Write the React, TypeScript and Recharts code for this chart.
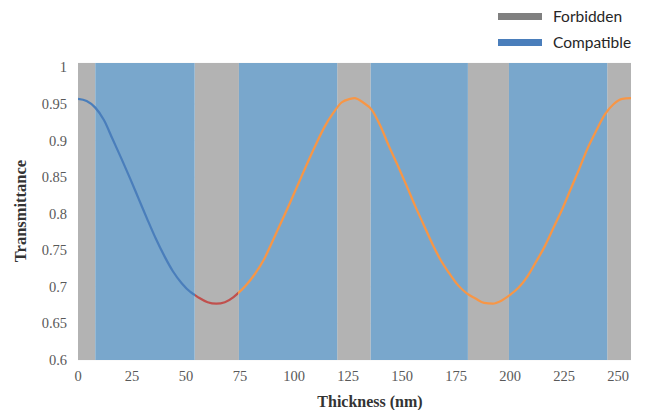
import React from "react";
import {
  ComposedChart,
  Line,
  XAxis,
  YAxis,
  CartesianGrid,
  ReferenceArea,
  Label,
} from "recharts";

// thickness (nm) and transmittance
const thickness = [
  0, 4, 8, 12, 16, 20, 24, 28, 32, 36, 40, 44, 48, 52, 54, 56, 60, 64, 68, 72,
  74, 78, 82, 86, 90, 94, 98, 102, 106, 110, 114, 118, 122, 126, 128, 132, 136,
  140, 144, 148, 152, 156, 160, 164, 168, 172, 176, 180, 184, 188, 192, 196,
  200, 204, 208, 212, 216, 220, 224, 228, 232, 236, 240, 244, 248, 252, 256,
];
const transmittance = [
  0.957, 0.954, 0.945, 0.928, 0.902, 0.876, 0.849, 0.821, 0.793, 0.766, 0.742,
  0.721, 0.705, 0.693, 0.689, 0.685, 0.679, 0.677, 0.679, 0.686, 0.691, 0.703,
  0.718, 0.737, 0.762, 0.788, 0.814, 0.841, 0.868, 0.894, 0.918, 0.937, 0.952,
  0.957, 0.958, 0.952, 0.942, 0.92, 0.892, 0.866, 0.839, 0.811, 0.785, 0.759,
  0.736, 0.718, 0.702, 0.691, 0.684, 0.678, 0.677, 0.681, 0.689, 0.699, 0.714,
  0.734, 0.755, 0.78, 0.805, 0.833, 0.861, 0.89, 0.914, 0.936, 0.95, 0.957,
  0.958,
];

// where the curve changes colour (nm)
const redFrom = 54;
const redTo = 74;
const xMax = 256;

// shaded thickness ranges
const forbiddenStart = [0, 54, 120, 180.5, 245];
const forbiddenEnd = [8, 74.5, 135.5, 199.5, 256];
const compatibleStart = [8, 74.5, 135.5, 199.5];
const compatibleEnd = [54, 120, 180.5, 245];

const xTicks = [0, 25, 50, 75, 100, 125, 150, 175, 200, 225, 250];
const yTicks = [0.6, 0.65, 0.7, 0.75, 0.8, 0.85, 0.9, 0.95, 1];

const chartData = thickness.map((t, i) => ({ t, v: transmittance[i] }));

const serif = "Liberation Serif";
const legendFont = "Lato, 'Open Sans', sans-serif";

function XTick(props: any) {
  const { x, y, payload } = props;
  return (
    <text
      x={x}
      y={y + 11}
      textAnchor="middle"
      fill="#595959"
      fontSize={14.5}
      fontFamily={serif}
    >
      {payload.value}
    </text>
  );
}

function YTick(props: any) {
  const { x, y, payload } = props;
  return (
    <text
      x={x}
      y={y + 5}
      textAnchor="end"
      fill="#595959"
      fontSize={14.5}
      fontFamily={serif}
    >
      {payload.value}
    </text>
  );
}

function LegendBox() {
  const rows = [
    { name: "Forbidden", color: "#808080" },
    { name: "Compatible", color: "#4a7ebb" },
  ];
  return (
    <div style={{ position: "absolute", left: 498, top: 3 }}>
      {rows.map((r) => (
        <div
          key={r.name}
          style={{ display: "flex", alignItems: "center", height: 26 }}
        >
          <div
            style={{ width: 44, height: 7, background: r.color, marginRight: 11 }}
          />
          <span
            style={{ fontFamily: legendFont, fontSize: 15.5, color: "#262626" }}
          >
            {r.name}
          </span>
        </div>
      ))}
    </div>
  );
}

export default function App() {
  const o1 = redFrom / xMax;
  const o2 = redTo / xMax;
  return (
    <div
      style={{
        position: "absolute",
        left: 0,
        top: 0,
        width: 647,
        height: 410,
        background: "#fff",
      }}
    >
      <ComposedChart
        width={647}
        height={410}
        data={chartData}
        margin={{ top: 63, right: 16, bottom: 0, left: 0 }}
      >
        <defs>
          <linearGradient id="curveColor" x1="0" y1="0" x2="1" y2="0">
            <stop offset={0} stopColor="#4a7ebb" />
            <stop offset={o1} stopColor="#4a7ebb" />
            <stop offset={o1} stopColor="#c0504d" />
            <stop offset={o2} stopColor="#c0504d" />
            <stop offset={o2} stopColor="#f79646" />
            <stop offset={1} stopColor="#f79646" />
          </linearGradient>
        </defs>
        {forbiddenStart.map((s, i) => (
          <ReferenceArea
            key={"f" + i}
            x1={s}
            x2={forbiddenEnd[i]}
            fill="#b3b3b3"
            fillOpacity={1}
            stroke="none"
          />
        ))}
        {compatibleStart.map((s, i) => (
          <ReferenceArea
            key={"c" + i}
            x1={s}
            x2={compatibleEnd[i]}
            fill="#79a7cc"
            fillOpacity={1}
            stroke="none"
          />
        ))}
        <CartesianGrid
          vertical={false}
          stroke="#f0f0f0"
          strokeOpacity={0.6}
        />
        <XAxis
          dataKey="t"
          type="number"
          domain={[0, xMax]}
          ticks={xTicks}
          allowDataOverflow
          height={50}
          axisLine={false}
          tickLine={false}
          tickMargin={4}
          tick={<XTick />}
        >
          <Label
            content={() => (
              <text
                x={370}
                y={407}
                textAnchor="middle"
                fontFamily={serif}
                fontWeight="bold"
                fontSize={16}
                fill="#333"
              >
                Thickness (nm)
              </text>
            )}
          />
        </XAxis>
        <YAxis
          type="number"
          domain={[0.6, 1.006]}
          ticks={yTicks}
          allowDataOverflow
          width={78}
          axisLine={false}
          tickLine={false}
          tickMargin={5}
          tick={<YTick />}
        >
          <Label
            content={() => (
              <text
                x={26}
                y={211}
                textAnchor="middle"
                transform="rotate(-90 26 211)"
                fontFamily={serif}
                fontWeight="bold"
                fontSize={16.5}
                fill="#333"
              >
                Transmittance
              </text>
            )}
          />
        </YAxis>
        <Line
          dataKey="v"
          type="monotone"
          stroke="url(#curveColor)"
          strokeWidth={2.25}
          dot={false}
          isAnimationActive={false}
        />
      </ComposedChart>
      <LegendBox />
    </div>
  );
}
